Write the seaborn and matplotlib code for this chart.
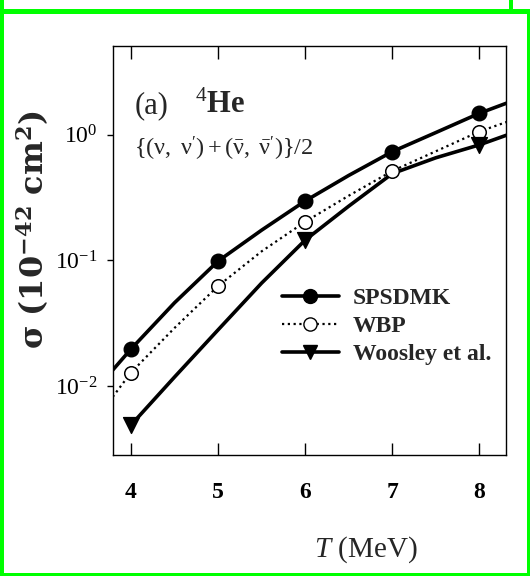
import numpy as np
import pandas as pd
import matplotlib
matplotlib.use("Agg")
import matplotlib.pyplot as plt
from matplotlib.lines import Line2D
from matplotlib.patches import Rectangle
from matplotlib.ticker import FixedLocator, NullLocator, LogFormatterMathtext
import seaborn as sns

# ---- data -------------------------------------------------------------
# temperatures where the calculated cross sections are marked
T_points = [4, 5, 6, 7, 8]
spsdmk_points = [0.0197, 0.0987, 0.297, 0.733, 1.48]
wbp_points = [0.0128, 0.0625, 0.203, 0.514, 1.06]
T_woosley_points = [4, 6, 8]
woosley_points = [0.0049, 0.145, 0.83]

# continuous curves (sampled along T)
T_curve = [3.79, 4.0, 4.5, 5.0, 5.5, 6.0, 6.5, 7.0, 7.5, 8.0, 8.31]
spsdmk_curve = [0.0134, 0.0197, 0.046, 0.0987, 0.174, 0.297, 0.474, 0.733, 1.04, 1.48, 1.78]
wbp_curve = [0.0082, 0.0128, 0.029, 0.0625, 0.118, 0.203, 0.327, 0.514, 0.738, 1.06, 1.26]
T_woosley_curve = [4.0, 4.5, 5.0, 5.5, 6.0, 6.5, 7.0, 7.5, 8.0, 8.31]
woosley_curve = [0.0049, 0.0118, 0.028, 0.066, 0.145, 0.27, 0.49, 0.655, 0.83, 0.99]

x_ticks = [4, 5, 6, 7, 8]
y_ticks = [1e-2, 1e-1, 1e0]
series_labels = ["SPSDMK", "WBP", "Woosley et al."]

# ---- style ------------------------------------------------------------
sns.set_style("ticks")
plt.rcParams["font.family"] = ["Liberation Serif", "DejaVu Serif"]
plt.rcParams["mathtext.fontset"] = "custom"
plt.rcParams["mathtext.rm"] = "Liberation Serif"
plt.rcParams["mathtext.it"] = "Liberation Serif:italic"
plt.rcParams["mathtext.bf"] = "Liberation Serif:bold"
plt.rcParams["axes.linewidth"] = 1.0

fig = plt.figure(figsize=(5.30, 5.76), dpi=100)
fig.patch.set_facecolor("white")
L, R, TOP, BOT = 113, 506, 46, 455.3
ax = fig.add_axes([L / 530, 1 - BOT / 576, (R - L) / 530, (BOT - TOP) / 576])
ax.set_facecolor("white")

# ---- curves -----------------------------------------------------------
sns.lineplot(x=T_curve, y=spsdmk_curve, ax=ax, color="black", lw=2.6,
             sort=False, estimator=None)
sns.lineplot(x=T_curve, y=wbp_curve, ax=ax, color="black", lw=1.6,
             linestyle=(0, (1.0, 1.6)), sort=False, estimator=None)
sns.lineplot(x=T_woosley_curve, y=woosley_curve, ax=ax, color="black", lw=2.6,
             sort=False, estimator=None)

# ---- markers ----------------------------------------------------------
sns.scatterplot(x=T_points, y=spsdmk_points, ax=ax, marker="o", s=110,
                color="black", edgecolor="black", linewidth=1, zorder=5)
sns.scatterplot(x=T_points, y=wbp_points, ax=ax, marker="o", s=95,
                color="white", edgecolor="black", linewidth=1.1, zorder=5)
sns.scatterplot(x=T_woosley_points, y=woosley_points, ax=ax, marker="v", s=130,
                color="black", edgecolor="black", linewidth=1, zorder=5)

# ---- axes -------------------------------------------------------------
ax.set_yscale("log")
ax.set_xlim(3.793, 8.306)
ax.set_ylim(2.81e-3, 5.08)
ax.xaxis.set_major_locator(FixedLocator(x_ticks))
ax.xaxis.set_minor_locator(NullLocator())
ax.yaxis.set_major_locator(FixedLocator(y_ticks))
ax.yaxis.set_minor_locator(NullLocator())
ax.yaxis.set_major_formatter(LogFormatterMathtext())
ax.set_xticklabels([str(t) for t in x_ticks], fontweight="bold", fontsize=17)

ax.tick_params(axis="x", which="major", direction="in", top=True, bottom=True,
               length=9, width=1, pad=19, colors="black")
ax.tick_params(axis="y", which="major", direction="out", left=True, right=False,
               length=4, width=1, pad=7, labelsize=17, colors="black")
for sp in ax.spines.values():
    sp.set_visible(True)
    sp.set_color("black")
    sp.set_linewidth(1.0)

ax.set_xlabel("")
ax.set_ylabel("")
fig.text(366 / 530, 1 - 550 / 576, r"$T$ (MeV)", fontsize=21,
         ha="center", va="center")
fig.text(33 / 530, 1 - 230 / 576, r"$\mathbf{\sigma\ (10^{-42}\ cm^{2})}$",
         fontsize=23, rotation=90, ha="center", va="center",
         math_fontfamily="dejavuserif")

# ---- annotations ------------------------------------------------------
def ax_xy(px, py):
    return (px - L) / (R - L), (BOT - py) / (BOT - TOP)

ax.text(*ax_xy(135, 113), "(a)", transform=ax.transAxes, fontsize=22,
        ha="left", va="baseline")
ax.text(*ax_xy(195, 113), r"$^{4}$He", transform=ax.transAxes, fontsize=22,
        fontweight="bold", ha="left", va="baseline")
ax.text(*ax_xy(134, 149),
        r"$\{(\mathrm{\nu},\ \mathrm{\nu}^{\prime})+(\bar{\mathrm{\nu}},\ \bar{\mathrm{\nu}}^{\prime})\}/2$",
        transform=ax.transAxes, fontsize=17.5, ha="left", va="center")

# ---- legend -----------------------------------------------------------
handles = [
    Line2D([], [], color="black", lw=2.6, marker="o", markersize=10,
           markerfacecolor="black", markeredgecolor="black"),
    Line2D([], [], color="black", lw=1.6, linestyle=(0, (1.0, 1.6)), marker="o",
           markersize=9.5, markerfacecolor="white", markeredgecolor="black"),
    Line2D([], [], color="black", lw=2.6, marker="v", markersize=10,
           markerfacecolor="black", markeredgecolor="black"),
]
ax.legend(handles, series_labels, loc="center left",
          bbox_to_anchor=ax_xy(282, 326.5), frameon=False, borderpad=0,
          borderaxespad=0, handlelength=2.4, handletextpad=0.6,
          labelspacing=0.28, numpoints=1,
          prop={"family": "Liberation Serif", "weight": "bold", "size": 17})

# ---- green frame around the panel ------------------------------------
green = "#00ff00"
W, H = 530, 576
for (x0, y0, w, h) in [(0, 0, 4, 576), (0, 9, 530, 5), (509, 0, 4, 9),
                       (527, 14, 3, 562), (0, 573, 530, 3)]:
    fig.add_artist(Rectangle((x0 / W, 1 - (y0 + h) / H), w / W, h / H,
                             transform=fig.transFigure, facecolor=green,
                             edgecolor="none", zorder=10))

fig.savefig("out.png", dpi=100, facecolor="white")
